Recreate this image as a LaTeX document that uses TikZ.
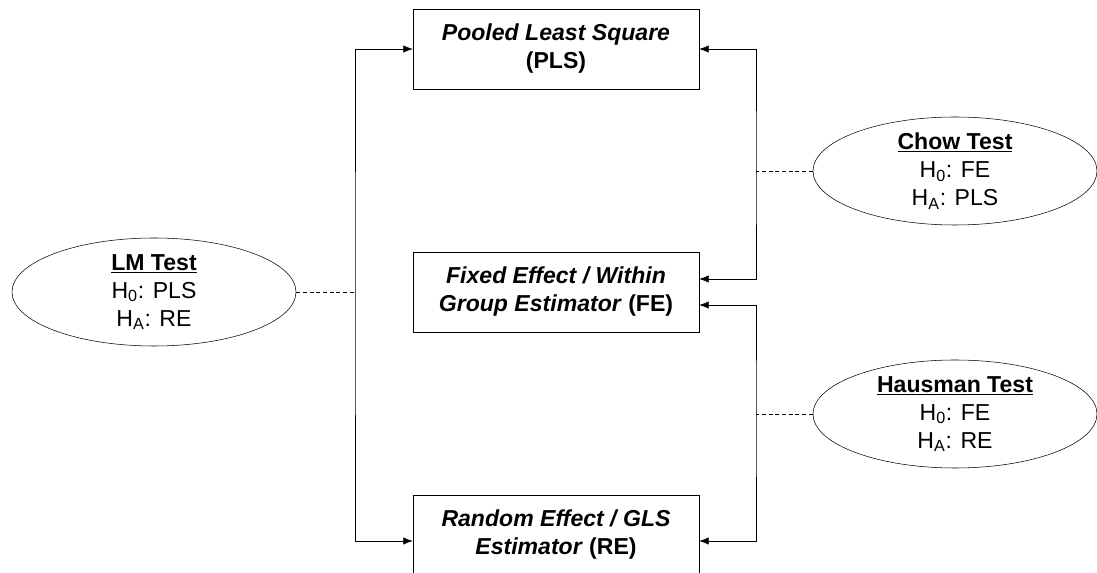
\documentclass[tikz,border=0pt]{standalone}
\usepackage{fontspec}
\setmainfont{Liberation Sans}
\usetikzlibrary{shapes.geometric,arrows.meta}

\begin{document}
\begin{tikzpicture}[x=0.75pt, y=-0.75pt, >={Latex[length=7pt,width=5.5pt]},
  estbox/.style={draw, thin, minimum width=214.5pt, minimum height=60pt, align=center,
    font=\fontsize{17.3}{21}\selectfont},
  testell/.style={draw, thin, ellipse, inner sep=0pt, minimum width=213pt, minimum height=81pt,
    align=center, font=\fontsize{17.3}{21}\selectfont},
  link/.style={densely dashed, thin}]
  \useasboundingbox (0,0) rectangle (1097,573);
  \clip (0,0) rectangle (1097,573);

  % estimators
  \node[estbox] (pls) at (556,49) {\textbf{\textit{Pooled Least Square}}\\\textbf{(PLS)}};
  \node[estbox] (fe) at (556,292) {\textbf{\textit{Fixed Effect / Within}}\\\textbf{\textit{Group Estimator} (FE)}};
  \node[estbox] (re) at (556,535) {\textbf{\textit{Random Effect / GLS}}\\\textbf{\textit{Estimator} (RE)}};

  % tests
  \node[testell] (lm) at (154,292) {\textbf{\underline{LM Test}}\\H\textsubscript{0}: PLS\\H\textsubscript{A}: RE};
  \node[testell] (chow) at (955,171) {\textbf{\underline{Chow Test}}\\H\textsubscript{0}: FE\\H\textsubscript{A}: PLS};
  \node[testell] (haus) at (955,414) {\textbf{\underline{Hausman Test}}\\H\textsubscript{0}: FE\\H\textsubscript{A}: RE};

  \coordinate (lmj) at (355,292);
  \coordinate (chowj) at (756,171);
  \coordinate (hausj) at (756,414);

  \draw[<->] (pls.west) -| (lmj) |- ([yshift=-4.5pt]re.west);
  \draw[<->] (pls.east) -| (chowj) |- ([yshift=9.75pt]fe.east);
  \draw[<->] ([yshift=-9.75pt]fe.east) -| (hausj) |- ([yshift=-4.5pt]re.east);

  \draw[link] (lm) -- (lmj);
  \draw[link] (chow) -- (chowj);
  \draw[link] (haus) -- (hausj);
\end{tikzpicture}
\end{document}
